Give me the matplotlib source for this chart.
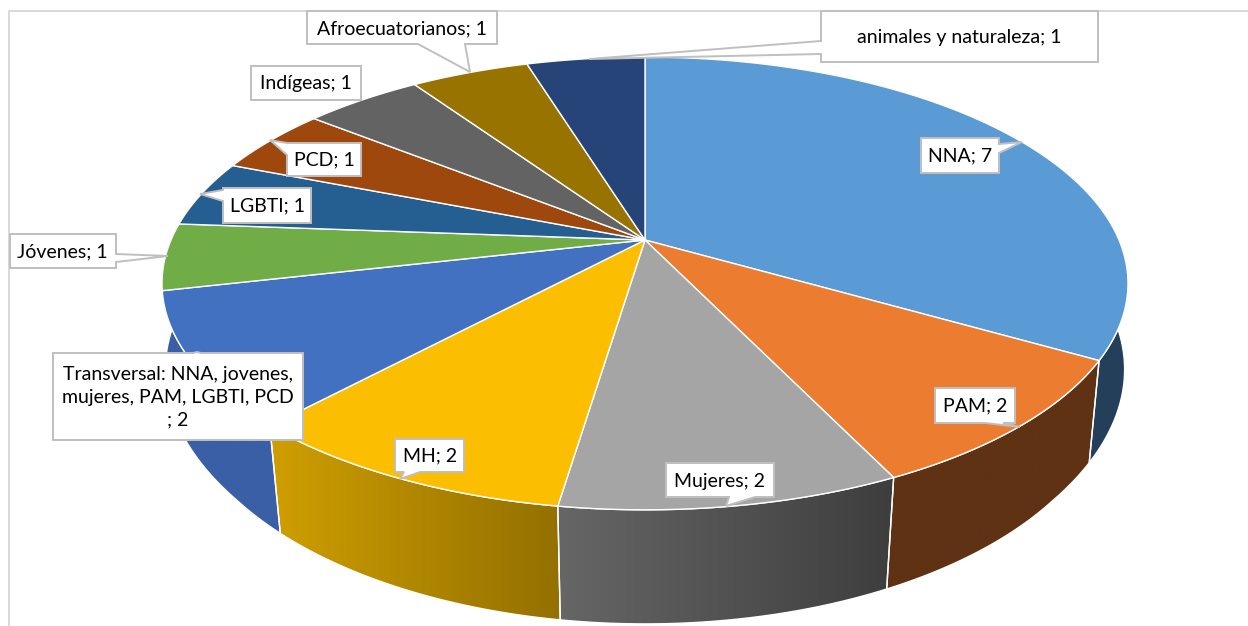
import matplotlib
matplotlib.use('Agg')
import matplotlib.pyplot as plt
from matplotlib.patches import Polygon
from matplotlib.colors import LinearSegmentedColormap
import numpy as np

labels = ['NNA', 'PAM', 'Mujeres', 'MH',
          'Transversal: NNA, jovenes,\nmujeres, PAM, LGBTI, PCD\n',
          'Jóvenes', 'LGBTI', 'PCD', 'Indígeas', 'Afroecuatorianos',
          'animales y naturaleza']
values = [7, 2, 2, 2, 2, 1, 1, 1, 1, 1, 1]

top_colors = ['#5b9bd5', '#eb7c30', '#a5a5a5', '#fcbe00', '#4371c2', '#70ad47',
              '#255e91', '#9e480e', '#636363', '#997300', '#264478']
# side wall gradient, left to right
side_colors = [('#243f59', '#243f59'), ('#5f3214', '#5f3214'), ('#666666', '#3e3e3e'),
               ('#cf9e00', '#937000'), ('#3a5fa6', '#3a5fa6')]

# projection of the pie circle to pixels
CX, CY = 645, 240
BX, AY, K = 474, 218, 0.192


def project(t):
    u, v = np.sin(t), -np.cos(t)
    s = 1 / (1 - K * v)
    return CX + BX * u * s, CY + AY * v * s


def project_bottom(t):
    x, y = project(t)
    shrink = np.clip(1 - 0.00018 * (y - CY), 0.972, 1)  # lower rim narrows towards the viewer
    return CX + shrink * (x - CX), 332.5 + 1.08 * (y - CY)


# callout outlines in pixels: vertices, text centre
callouts = [
    ([(921, 138), (999, 138), (999, 144), (1022, 142), (999, 153), (999, 173), (921, 173)], (960, 156)),
    ([(935, 388), (1015, 388), (1015, 423), (1003, 423), (1020, 427), (985, 423), (935, 423)], (975, 406)),
    ([(666, 463), (774, 463), (774, 497), (755, 497), (726, 506), (729, 497), (666, 497)], (720, 481)),
    ([(395, 439), (464, 439), (464, 472), (420, 472), (400, 479), (404, 472), (395, 472)], (430, 456)),
    ([(53, 353), (193, 353), (197, 352), (201, 353), (303, 353), (303, 440), (53, 440)], (178, 397)),
    ([(10, 234), (116, 234), (116, 254), (168, 256), (116, 262), (116, 268), (10, 268)], (62, 252)),
    ([(223, 188), (311, 188), (311, 223), (223, 223), (223, 201), (200, 194), (223, 190)], (267, 206)),
    ([(287, 143), (361, 143), (361, 176), (287, 176), (287, 155), (270, 140)], (324, 160)),
    ([(251, 66), (361, 66), (361, 100), (251, 100)], (306, 84)),
    ([(307, 11), (497, 11), (497, 44), (465, 44), (470, 72), (418, 44), (307, 44)], (402, 29)),
    ([(821, 11), (1098, 11), (1098, 62), (821, 62), (821, 54), (589, 59), (821, 41)], (959, 38)),
]

plt.rcParams['font.family'] = ['Lato', 'DejaVu Sans']

fig = plt.figure(figsize=(12.48, 6.26), dpi=100)
ax = fig.add_axes([0, 0, 1, 1])
ax.set_xlim(0, 1248)
ax.set_ylim(626, 0)
ax.axis('off')

# chart frame
ax.plot([9, 9, 1248], [626, 11, 11], color='#d9d9d9', lw=1.4, zorder=1)

edges = np.cumsum([0] + values) / sum(values) * 2 * np.pi

# side walls, only the front slices show
for i, (c0, c1) in enumerate(side_colors):
    t0, t1 = edges[i], edges[i + 1]
    if i == 4:
        t1 += np.radians(25)  # wall runs on behind the next slice
    t = np.linspace(t0, t1, 200)
    xt, yt = project(t)
    xb, yb = project_bottom(t)
    verts = np.r_[np.c_[xt, yt], np.c_[xb, yb][::-1]]
    poly = Polygon(verts, closed=True, fc='none', ec='none', zorder=2)
    ax.add_patch(poly)
    cmap = LinearSegmentedColormap.from_list('side', [c0, c1])
    im = ax.imshow(np.linspace(0, 1, 256)[None, :], cmap=cmap, aspect='auto', zorder=2,
                   extent=(verts[:, 0].min(), verts[:, 0].max(), verts[:, 1].max(), verts[:, 1].min()))
    im.set_clip_path(poly)
    ax.add_patch(Polygon(verts, closed=True, fc='none', ec='white', lw=1.0, zorder=3))
ax.set_xlim(0, 1248)
ax.set_ylim(626, 0)

# top face
for i, col in enumerate(top_colors):
    t = np.linspace(edges[i], edges[i + 1], 120)
    x, y = project(t)
    verts = np.r_[[(CX, CY)], np.c_[x, y]]
    ax.add_patch(Polygon(verts, closed=True, fc=col, ec='white', lw=1.0, zorder=4))

# data labels
for lab, val, (verts, centre) in zip(labels, values, callouts):
    ax.add_patch(Polygon(verts, closed=True, fc='white', ec='#bfbfbf', lw=1.4, zorder=5))
    ax.text(centre[0], centre[1], f'{lab}; {val}', ha='center', va='center', fontsize=14,
            color='black', linespacing=1.42, zorder=6)

fig.savefig('out.png', dpi=100)
